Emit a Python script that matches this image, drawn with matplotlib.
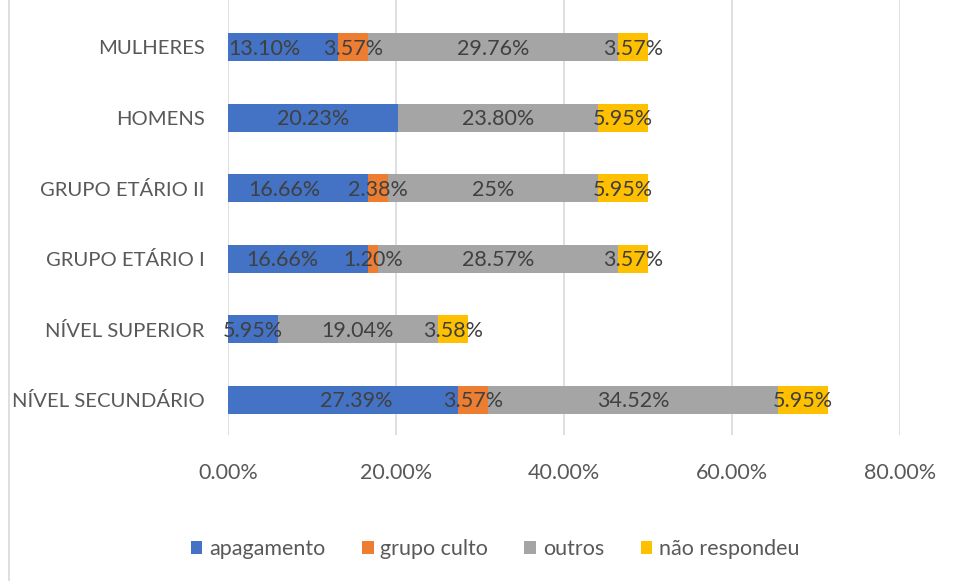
import matplotlib
matplotlib.use("Agg")
import matplotlib.pyplot as plt
from matplotlib.lines import Line2D
from matplotlib.patches import Patch

plt.rcParams['font.family'] = ['Lato', 'DejaVu Sans']

categories = ["NÍVEL SECUNDÁRIO", "NÍVEL SUPERIOR", "GRUPO ETÁRIO I",
              "GRUPO ETÁRIO II", "HOMENS", "MULHERES"]
series_names = ["apagamento", "grupo culto", "outros", "não respondeu"]
apagamento = [27.39, 5.95, 16.66, 16.66, 20.23, 13.10]
grupo_culto = [3.57, 0.0, 1.20, 2.38, 0.0, 3.57]
outros = [34.52, 19.04, 28.57, 25.00, 23.80, 29.76]
nao_respondeu = [5.95, 3.58, 3.57, 5.95, 5.95, 3.57]
labels_apagamento = ["27.39%", "5.95%", "16.66%", "16.66%", "20.23%", "13.10%"]
labels_grupo_culto = ["3.57%", "", "1.20%", "2.38%", "", "3.57%"]
labels_outros = ["34.52%", "19.04%", "28.57%", "25%", "23.80%", "29.76%"]
labels_nao_respondeu = ["5.95%", "3.58%", "3.57%", "5.95%", "5.95%", "3.57%"]
xticks = [0, 20, 40, 60, 80]
xtick_labels = ["0.00%", "20.00%", "40.00%", "60.00%", "80.00%"]

colors = ["#4472C4", "#ED7D31", "#A5A5A5", "#FFC000"]
label_color = "#404040"
axis_color = "#595959"
grid_color = "#D9D9D9"

# manual label nudges (pixels), as in the original Excel chart
nudges_px = {(0, 0): 13, (0, 2): -16, (0, 3): -14, (0, 5): -19}

W, H = 956, 581
fig = plt.figure(figsize=(W / 100, H / 100), dpi=100)
ax = fig.add_axes([228 / W, 1 - 435 / H, 672 / W, 435 / H])

values = [apagamento, grupo_culto, outros, nao_respondeu]
labels = [labels_apagamento, labels_grupo_culto, labels_outros, labels_nao_respondeu]
y = list(range(len(categories)))
left = [0.0] * len(categories)
fs = 15.5
for s, (vals, labs, col) in enumerate(zip(values, labels, colors)):
    ax.barh(y, vals, left=left, height=0.4, color=col, linewidth=0, zorder=3)
    for i, (v, lab) in enumerate(zip(vals, labs)):
        if lab:
            cx = left[i] + v / 2
            dx = nudges_px.get((s, i), 0) * 0.72
            ax.annotate(lab, (cx, y[i]), xytext=(dx, -1), textcoords='offset points',
                        ha='center', va='center', fontsize=fs, color=label_color,
                        zorder=4)
    left = [l + v for l, v in zip(left, vals)]

ax.set_xlim(0, 80)
ax.set_ylim(-0.5, 5.67)
ax.set_xticks(xticks)
ax.set_xticklabels(xtick_labels)
ax.set_yticks(y)
ax.set_yticklabels(categories)
ax.tick_params(axis='both', length=0, labelsize=fs, colors=axis_color)
ax.tick_params(axis='y', labelsize=14.6, pad=17)
ax.tick_params(axis='x', pad=20)
for sp in ax.spines.values():
    sp.set_visible(False)
ax.grid(axis='x', color=grid_color, linewidth=1.2, zorder=0)
ax.grid(axis='y', visible=False)
ax.set_axisbelow(True)

handles = [Patch(facecolor=c, edgecolor='none') for c in colors]
fig.legend(handles, series_names, loc='center', bbox_to_anchor=(495 / W, 1 - 549 / H),
           ncol=4, frameon=False, fontsize=fs, labelcolor=axis_color,
           handlelength=0.55, handleheight=0.55, handletextpad=0.3, columnspacing=1.7)

fig.add_artist(Line2D([9 / W, 9 / W], [0, 1], transform=fig.transFigure,
                      color=grid_color, linewidth=1.2))

fig.savefig("out.png", dpi=100)
